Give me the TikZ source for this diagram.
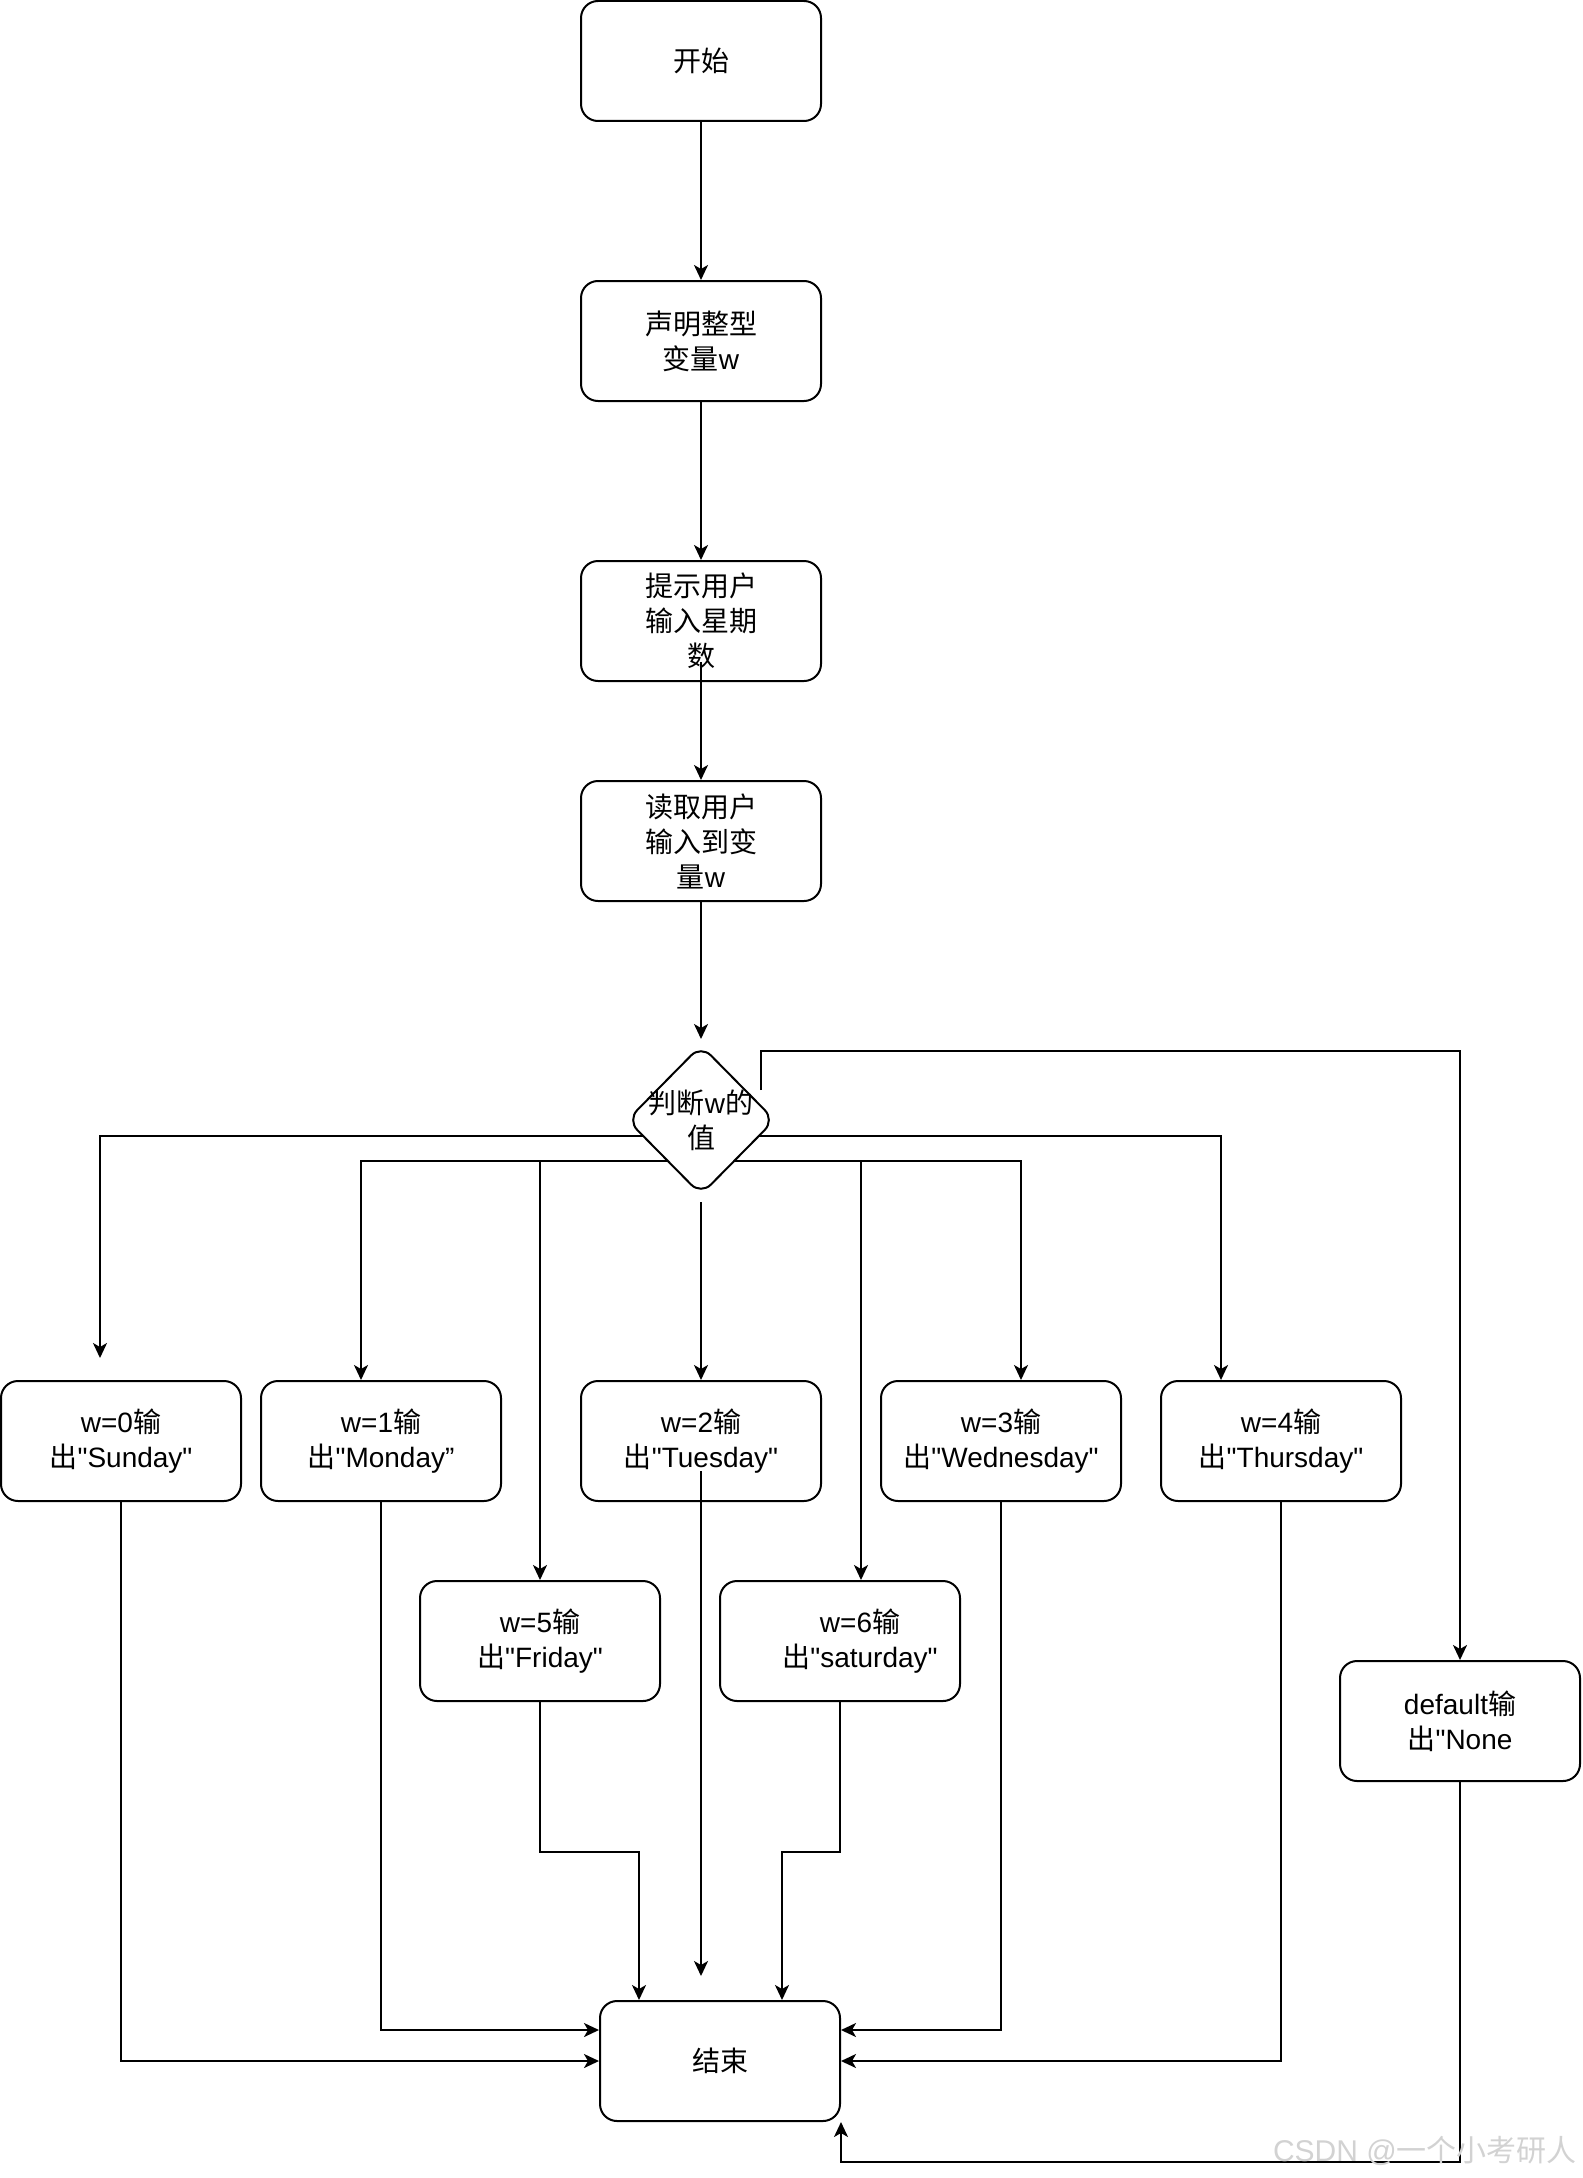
\documentclass[tikz,border=0pt]{standalone}
\usepackage{fontspec}
\setmainfont{Liberation Sans}
\newfontfamily\cjk{Noto Sans CJK SC}
\usetikzlibrary{arrows.meta,shapes.geometric,calc}
\newcommand\zh[1]{{\cjk #1}}
\newcommand\dq{\XeTeXglyph\XeTeXcharglyph"22 }
\begin{document}
\begin{tikzpicture}[x=1pt,y=-1pt,
  txt/.style={font=\fontsize{28}{35}\selectfont, align=center},
  box/.style={draw, line width=2pt, rounded corners=17pt, minimum width=240pt, minimum height=120pt, inner sep=0pt, txt},
  conn/.style={line width=2pt, -{Stealth[length=15pt,width=14pt,inset=4pt]}},
  lbl/.style={txt, inner sep=0pt}]
\useasboundingbox (0,0) rectangle (1582,2178);

\node[box] (start)  at (701,61)  {\zh{开始}};
\node[box] (decl)   at (701,341) {\zh{声明整型}\\\zh{变量}w};
\node[box] (prompt) at (701,621) {\zh{提示用户}\\\zh{输入星期}\\\zh{数}};
\node[box] (read)   at (701,841) {\zh{读取用户}\\\zh{输入到变}\\\zh{量}w};
\node[draw, diamond, line width=2pt, rounded corners=14pt, minimum width=148pt, minimum height=150pt, inner sep=0pt,
      label={[lbl]center:\zh{判断}w\zh{的}\\\zh{值}}] (d) at (701,1120) {};

\node[box] (sun) at (121,1441)  {w=0\zh{输}\\\zh{出}\dq Sunday\dq};
\node[box] (mon) at (381,1441)  {w=1\zh{输}\\\zh{出}\dq Monday”};
\node[box] (tue) at (701,1441)  {w=2\zh{输}\\\zh{出}\dq Tuesday\dq};
\node[box] (wed) at (1001,1441) {w=3\zh{输}\\\zh{出}\dq Wednesday\dq};
\node[box] (thu) at (1281,1441) {w=4\zh{输}\\\zh{出}\dq Thursday\dq};
\node[box] (fri) at (540,1641)  {w=5\zh{输}\\\zh{出}\dq Friday\dq};
\node[box, label={[lbl,xshift=20pt]center:w=6\zh{输}\\\zh{出}\dq saturday\dq}] (sat) at (840,1641) {};
\node[box] (def) at (1460,1721) {default\zh{输}\\\zh{出}\dq None};
\node[box] (end) at (720,2061)  {\zh{结束}};

\coordinate (dL1) at (644,1136);
\coordinate (dL2) at (668,1161);
\coordinate (dR1) at (758,1136);
\coordinate (dR2) at (734,1161);
\coordinate (dTR) at (761,1090);
\coordinate (dB)  at (701,1202);
\coordinate (sunTip) at (100,1358);
\coordinate (tueFrom) at (701,1471);
\coordinate (tueTip) at (701,1976);

\draw[conn] (start.south) -- (decl.north);
\draw[conn] (decl.south) -- (prompt.north);
\draw[conn] ([yshift=20pt]prompt.south) -- (read.north);
\draw[conn, shorten >=5pt] (read.south) -- (d.north);

\draw[conn] (dL1) -| (sunTip);
\draw[conn] (dL2) -| ([xshift=-20pt]mon.north);
\draw[conn] (dL2) -| (fri.north);
\draw[conn] (dB) -- (tue.north);
\draw[conn] (dR2) -| ([xshift=20pt]wed.north);
\draw[conn] (dR2) -| ([xshift=21pt]sat.north);
\draw[conn] (dR1) -| ([xshift=-60pt]thu.north);
\draw[conn] (dTR) -- ++(0,-39) -| (def.north);

\draw[conn] (sun.south) |- (end.west);
\draw[conn] (mon.south) |- ($(end.west)+(0,-31)$);
\draw[conn] (fri.south) -- ++(0,150) -| ($(end.north west)+(40,0)$);
\draw[conn] (tueFrom) -- (tueTip);
\draw[conn] (sat.south) -- ++(0,150) -| ($(end.north east)+(-59,0)$);
\draw[conn] (wed.south) |- ($(end.east)+(0,-31)$);
\draw[conn] (thu.south) |- (end.east);
\draw[conn] (def.south) |- ($(end.south east)+(0,40)$) -- (end.south east);

\node[anchor=base east, text=gray!35, font=\fontsize{30}{34}\selectfont, inner sep=0pt] (wm) at (1577,2161) {CSDN @\zh{一个小考研人}};
\end{tikzpicture}
\end{document}
